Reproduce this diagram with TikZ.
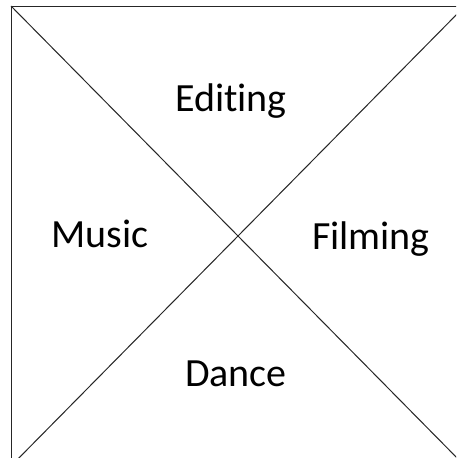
\documentclass[tikz,border=0pt]{standalone}
\usepackage{fontspec}
\setmainfont{Carlito}[RawFeature={-liga;-clig}]
\begin{document}
\begin{tikzpicture}[x=1pt,y=-1pt,
  lbl/.style={font=\fontsize{40}{42}\selectfont, anchor=base, inner sep=0pt, text=black},
  edge/.style={draw=black!85, line width=1pt}]
\useasboundingbox (0,0) rectangle (456,458);
\clip (0,0) rectangle (456,458);
\fill[white] (0,0) rectangle (456,458);
\coordinate (tl) at (11,6);
\coordinate (tr) at (465,6);
\coordinate (bl) at (11,466);
\coordinate (br) at (465,466);
\draw[edge] (tl) rectangle (br);
\draw[edge] (tl) -- (br);
\draw[edge] (tr) -- (bl);
\node[lbl] (editing) at (231,111) {Editing};
\node[lbl] (music) at (100,247) {Music};
\node[lbl] (filming) at (371,249) {Filming};
\node[lbl] (dance) at (236,386) {Dance};
\end{tikzpicture}
\end{document}
